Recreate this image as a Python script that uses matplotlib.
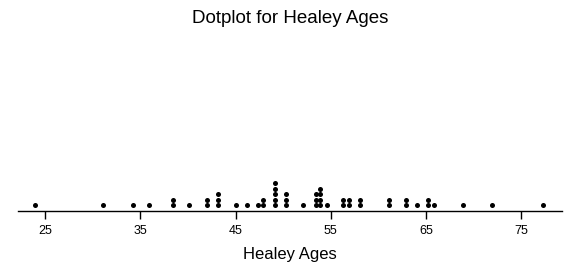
import matplotlib
matplotlib.use("Agg")
import matplotlib.pyplot as plt
from collections import Counter

# ages (repeats = stacked dots)
ages = [24.0, 31.1, 34.2, 35.9,
        38.4, 38.4, 40.1, 42.0, 42.0, 43.2, 43.2, 43.2,
        45.0, 46.2, 47.3, 47.9, 47.9,
        49.1, 49.1, 49.1, 49.1, 49.1, 50.3, 50.3, 50.3,
        52.1, 53.4, 53.4, 53.4, 53.9, 53.9, 53.9, 53.9, 54.6,
        56.3, 56.3, 56.9, 56.9, 58.1, 58.1,
        61.1, 61.1, 62.9, 62.9, 64.0, 65.2, 65.2, 65.8,
        68.9, 71.9, 77.3]
ticks = [25, 35, 45, 55, 65, 75]

plt.rcParams['font.family'] = ['Liberation Sans', 'DejaVu Sans']

xs, ys = [], []
for age, n in sorted(Counter(ages).items()):
    for k in range(n):
        xs.append(age)
        ys.append(k + 1)

fig = plt.figure(figsize=(5.86, 2.78), dpi=100)
ax = fig.add_axes([18/586, 67/278, 544/586, 171/278])
ax.scatter(xs, ys, s=13, color='black', linewidths=0)
ax.set_xlim(22.17, 79.25)
ax.set_ylim(0, 31)
for s in ['top', 'left', 'right']:
    ax.spines[s].set_visible(False)
ax.spines['bottom'].set_linewidth(1)
ax.set_yticks([])
ax.set_xticks(ticks)
ax.tick_params(axis='x', length=6, width=1, labelsize=9, pad=4)
ax.set_xlabel("Healey Ages", fontsize=12, labelpad=7)
fig.suptitle("Dotplot for Healey Ages", fontsize=13.5, x=290/586, y=0.965, va='top')
fig.savefig("out.png", dpi=100)
